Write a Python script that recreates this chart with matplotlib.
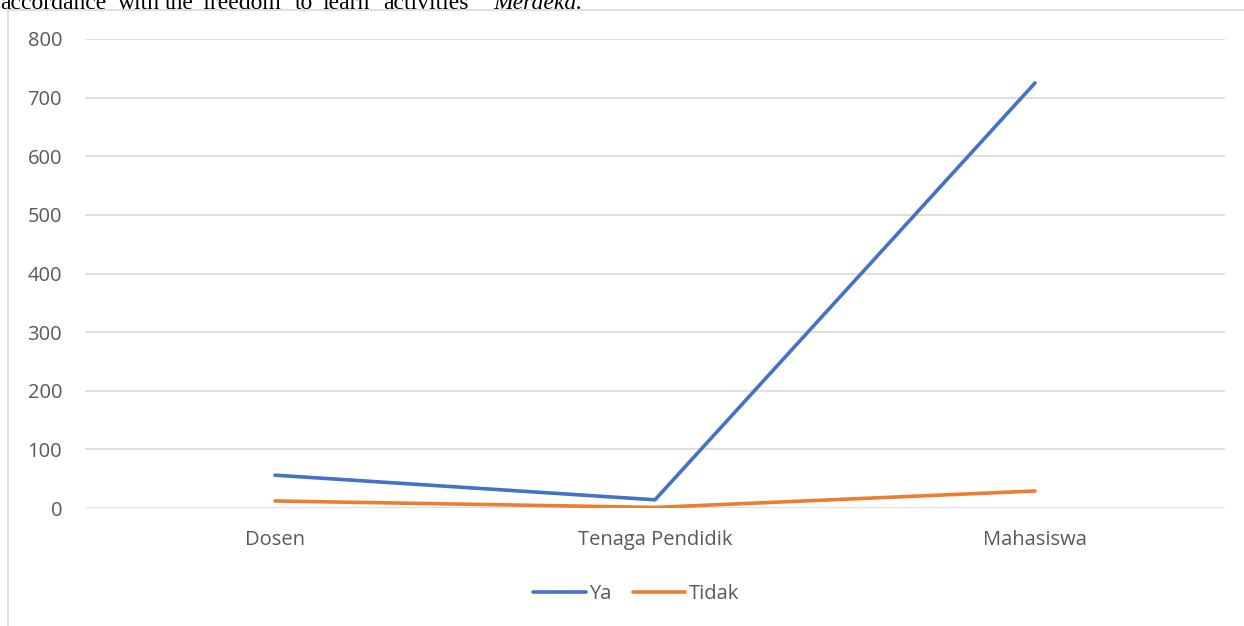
import matplotlib.pyplot as plt
from matplotlib.lines import Line2D

# jumlah responden per kelompok
categories = ["Dosen", "Tenaga Pendidik", "Mahasiswa"]
ya = [56, 14, 725]
tidak = [12, 1, 29]
yticks = [0, 100, 200, 300, 400, 500, 600, 700, 800]

W, H = 1244, 626
fig = plt.figure(figsize=(W / 100, H / 100), dpi=100)
plt.rcParams["font.family"] = ["Open Sans", "DejaVu Sans"]

# potongan kalimat dokumen di atas grafik
words = [("accordance", 0), ("with", 118), ("the", 165), ("freedom", 202),
         ("to", 295), ("learn", 322), ("activities", 383)]
for w, px in words:
    fig.text(px / W, 1 - 9 / H, w, family="Liberation Serif", fontsize=17,
             va="baseline", ha="left", color="black")
fig.text(493 / W, 1 - 9 / H, "Merdeka.", family="Liberation Serif",
         style="italic", fontsize=17, va="baseline", ha="left", color="black")

# bingkai area grafik
border = "#d9d9d9"
fig.add_artist(Line2D([8 / W, 8 / W], [0, 1 - 10 / H], color=border, lw=1.2,
                      transform=fig.transFigure))
fig.add_artist(Line2D([8 / W, 1], [1 - 10 / H, 1 - 10 / H], color=border, lw=1.2,
                      transform=fig.transFigure))

ax = fig.add_axes([85 / W, (H - 508) / H, (1225 - 85) / W, (508 - 39) / H])
x = range(len(categories))
ax.plot(x, ya, color="#4472C4", lw=2.6, label="Ya", solid_capstyle="round")
ax.plot(x, tidak, color="#ED7D31", lw=2.6, label="Tidak", solid_capstyle="round")

ax.set_xlim(-0.5, len(categories) - 0.5)
ax.set_ylim(0, 800)
ax.set_yticks(yticks)
ax.set_xticks(list(x))
ax.set_xticklabels(categories)
ax.grid(axis="y", color="#d9d9d9", lw=1.2)
ax.set_axisbelow(True)
for s in ax.spines.values():
    s.set_visible(False)
ax.tick_params(axis="both", length=0, labelsize=14.5, colors="#595959")
ax.tick_params(axis="y", pad=16.5)
ax.tick_params(axis="x", pad=16)

leg = fig.legend(loc="center", bbox_to_anchor=(636 / W, 1 - 594 / H), ncol=2,
                 frameon=False, fontsize=14.5, handlelength=2.6, handletextpad=0.15,
                 columnspacing=1.1)
for t in leg.get_texts():
    t.set_color("#595959")

fig.savefig("out.png", dpi=100)
